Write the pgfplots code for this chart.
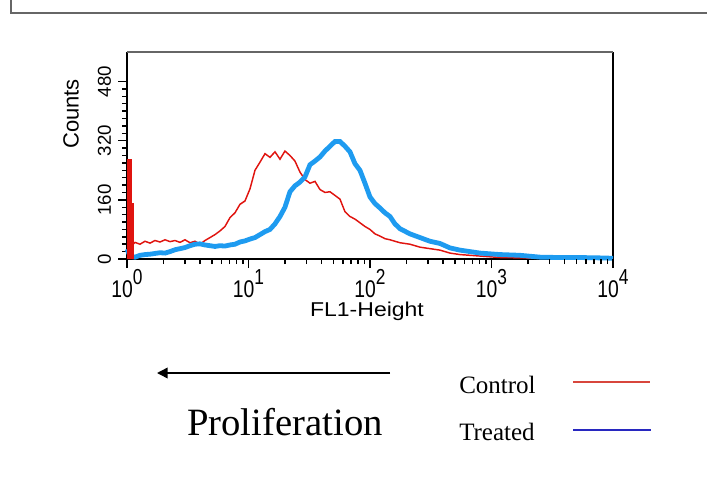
\documentclass[border=0pt]{standalone}
\usepackage{fontspec}
\setmainfont{Liberation Sans}
\newfontfamily\tnr{Liberation Serif}
\usepackage{graphicx}
\usepackage{pgfplots}
\pgfplotsset{compat=1.18}
\usetikzlibrary{arrows.meta}

\definecolor{cred}{HTML}{E0140F}
\definecolor{cblue}{HTML}{1E9BF0}
\definecolor{legred}{HTML}{D8463C}
\definecolor{legblue}{HTML}{2828C0}

\newcommand\ep[1]{\scalebox{1}[1.25]{10\raisebox{7.5pt}{\fontsize{13}{14}\selectfont #1}}}

\begin{document}
\begin{tikzpicture}
\begin{scope}[x=0.75pt,y=0.75pt]
\useasboundingbox (0,0) rectangle (707,480);
\draw[line width=1.5pt, color=black!60] (11,480) -- (11,467) -- (707,467);
\end{scope}

\begin{axis}[
  at={(95.25pt,165.75pt)}, anchor=south west,
  scale only axis, width=364.5pt, height=155.25pt,
  xmode=log, xmin=1, xmax=10000, ymin=0, ymax=560,
  clip=false,
  axis x line*=bottom, axis y line*=left,
  axis line style={black, line width=1.5pt, -},
  tick align=outside,
  xtick={1,10,100,1000,10000},
  xticklabels={\ep{0},\ep{1},\ep{2},\ep{3},\ep{4}},
  ytick={0,160,320,480}, yticklabels={0,160,320,480},
  minor y tick num=7,
  major tick length=6.75pt, minor tick length=3.75pt,
  tick style={black, line width=1.1pt},
  xticklabel style={font=\fontsize{14.5}{15}\selectfont, inner sep=1pt, anchor=north},
  yticklabel style={font=\fontsize{14}{15}\selectfont, rotate=90, anchor=south, inner sep=0pt},
  yticklabel shift=5pt,
]
\draw[black, line width=1.5pt] (rel axis cs:1,0) -- (rel axis cs:1,1);
\draw[black!60, line width=1.5pt] (rel axis cs:0,1) -- (rel axis cs:1,1);

% control
\addplot[color=cred, line width=1.1pt, mark=none] coordinates {
(1.12,40)(1.164,45)(1.279,40)(1.407,48)(1.546,43)(1.700,50)(1.869,46)(2.055,52)(2.259,47)(2.483,50)
(2.730,45)(3.001,52)(3.300,44)(3.628,48)(3.988,40)(4.385,50)(4.820,58)(5.299,66)(5.826,76)(6.405,88)
(7.041,112)(7.741,125)(8.510,148)(9.355,157)(10.29,190)(11.31,240)(12.43,262)(13.67,285)(15.02,275)
(16.52,290)(18.16,270)(19.96,292)(21.95,280)(24.13,265)(26.53,235)(29.16,215)(32.06,205)(35.25,210)
(38.75,188)(42.60,180)(46.83,182)(51.49,172)(56.60,162)(62.23,128)(68.41,115)(75.21,108)(82.68,98)
(90.90,88)(99.93,80)(109.9,68)(120.8,62)(132.8,55)(146.0,52)(160.5,48)(176.5,44)(213.3,40)(258.0,32)
(311.7,28)(376.8,24)(455.4,16)(550.5,12)(665.4,10)(804.2,8)(972.1,6)(1175,4)(1717,3)(2507,2)(3663,3)
(5350,1)(7816,2)(10000,0)
};
% treated
\addplot[color=cblue, line width=3.6pt, mark=none] coordinates {
(1,27)(1.058,8)(1.164,5)(1.279,10)(1.407,12)(1.546,13)(1.700,15)(1.869,17)(2.055,16)(2.259,20)
(2.483,25)(2.730,28)(3.001,31)(3.300,36)(3.628,40)(3.988,41)(4.385,38)(4.820,36)(5.299,34)(5.826,36)
(6.405,35)(7.041,38)(7.741,40)(8.510,46)(9.355,49)(10.29,54)(11.31,58)(12.43,66)(13.67,74)(15.02,80)
(16.52,95)(18.16,115)(19.96,140)(21.95,182)(24.13,198)(26.53,208)(29.16,222)(32.06,255)(35.25,265)
(38.75,276)(42.60,292)(46.83,305)(51.49,318)(56.60,318)(62.23,305)(68.41,290)(75.21,258)(82.68,240)
(90.90,205)(99.93,168)(109.9,150)(120.8,138)(132.8,125)(146.0,115)(160.5,95)(176.5,82)(213.3,68)
(258.0,58)(311.7,48)(376.8,42)(455.4,30)(550.5,24)(665.4,20)(804.2,16)(972.1,14)(1175,12)(1717,10)
(2507,5)(3663,4)(5350,4)(7816,3)(10000,2)
};
% spike of the control at the lower edge
\addplot[fill=cred, draw=cred, line width=0.4pt, mark=none] coordinates {
(1,0)(1,270)(1.08,270)(1.08,150)(1.12,150)(1.12,0)
};

% x ticks below the axis line, both ends in axis coordinates
\draw[black, line width=1.1pt]
  (axis cs:1,0) -- (axis cs:1,-24) (axis cs:10,0) -- (axis cs:10,-24) (axis cs:100,0) -- (axis cs:100,-24)
  (axis cs:1000,0) -- (axis cs:1000,-24) (axis cs:10000,0) -- (axis cs:10000,-24)
  (axis cs:2,0) -- (axis cs:2,-14) (axis cs:3,0) -- (axis cs:3,-14) (axis cs:4,0) -- (axis cs:4,-14)
  (axis cs:5,0) -- (axis cs:5,-14) (axis cs:6,0) -- (axis cs:6,-14) (axis cs:7,0) -- (axis cs:7,-14)
  (axis cs:8,0) -- (axis cs:8,-14) (axis cs:9,0) -- (axis cs:9,-14)
  (axis cs:20,0) -- (axis cs:20,-14) (axis cs:30,0) -- (axis cs:30,-14) (axis cs:40,0) -- (axis cs:40,-14)
  (axis cs:50,0) -- (axis cs:50,-14) (axis cs:60,0) -- (axis cs:60,-14) (axis cs:70,0) -- (axis cs:70,-14)
  (axis cs:80,0) -- (axis cs:80,-14) (axis cs:90,0) -- (axis cs:90,-14)
  (axis cs:200,0) -- (axis cs:200,-14) (axis cs:300,0) -- (axis cs:300,-14) (axis cs:400,0) -- (axis cs:400,-14)
  (axis cs:500,0) -- (axis cs:500,-14) (axis cs:600,0) -- (axis cs:600,-14) (axis cs:700,0) -- (axis cs:700,-14)
  (axis cs:800,0) -- (axis cs:800,-14) (axis cs:900,0) -- (axis cs:900,-14)
  (axis cs:2000,0) -- (axis cs:2000,-14) (axis cs:3000,0) -- (axis cs:3000,-14) (axis cs:4000,0) -- (axis cs:4000,-14)
  (axis cs:5000,0) -- (axis cs:5000,-14) (axis cs:6000,0) -- (axis cs:6000,-14) (axis cs:7000,0) -- (axis cs:7000,-14)
  (axis cs:8000,0) -- (axis cs:8000,-14) (axis cs:9000,0) -- (axis cs:9000,-14);
\end{axis}

\begin{scope}[x=0.75pt,y=0.75pt]
\node[rotate=90, font=\fontsize{16.5}{18}\selectfont] at (71,366) {Counts};
\node[font=\fontsize{15}{16}\selectfont, xscale=1.15] at (367,169) {FL1-Height};

\draw[line width=1.1pt, -{Triangle[length=8pt,width=8pt]}] (390,107) -- (157,107);
\node[font=\tnr\fontsize{29}{32}\selectfont, anchor=base] at (285,45) {Proliferation};
\node[font=\tnr\fontsize{18.75}{20}\selectfont, anchor=base west, inner sep=0pt] at (459,87) {Control};
\node[font=\tnr\fontsize{18.75}{20}\selectfont, anchor=base west, inner sep=0pt] at (459,40) {Treated};
\draw[legred, line width=1.5pt] (573,98) -- (650,98);
\draw[legblue, line width=1.5pt] (573,50) -- (651,50);
\end{scope}
\end{tikzpicture}
\end{document}
